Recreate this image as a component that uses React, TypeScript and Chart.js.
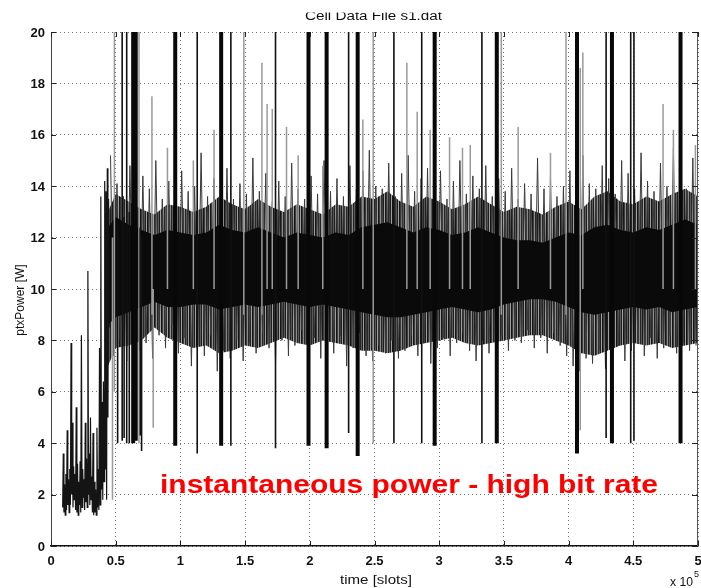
import React, { useEffect, useRef } from 'react';
import { Chart, registerables } from 'chart.js';
Chart.register(...registerables);

// ---------- axis ticks ----------
const xTicks = [0, 0.5, 1, 1.5, 2, 2.5, 3, 3.5, 4, 4.5, 5];
const xTickLabels = ['0', '0.5', '1', '1.5', '2', '2.5', '3', '3.5', '4', '4.5', '5'];
const yTicks = [0, 2, 4, 6, 8, 10, 12, 14, 16, 18, 20];
const yTickLabels = ['0', '2', '4', '6', '8', '10', '12', '14', '16', '18', '20'];

// ---------- texts ----------
const titleText = 'Cell Data File s1.dat';
const xTitle = 'time [slots]';
const yTitle = 'ptxPower [W]';
const annotation = 'instantaneous power - high bit rate';

// ---------- band envelope (time in 1e5 slots, power in W) ----------
const bandX = [0.44, 0.5, 0.6, 0.7, 0.8, 0.9, 1.0, 1.1, 1.2, 1.3, 1.4, 1.5, 1.6, 1.7, 1.8, 1.9, 2.0, 2.1, 2.2, 2.3, 2.4, 2.5, 2.6, 2.7, 2.8, 2.9, 3.0, 3.1, 3.2, 3.3, 3.4, 3.5, 3.6, 3.7, 3.8, 3.9, 4.0, 4.1, 4.2, 4.3, 4.4, 4.5, 4.6, 4.7, 4.8, 4.9, 5.0];
const outerHigh = [13.0, 13.7, 13.4, 13.1, 12.9, 13.3, 13.2, 13.0, 13.2, 13.6, 13.3, 13.1, 13.5, 13.2, 13.0, 13.3, 13.1, 12.9, 13.3, 13.2, 13.6, 13.5, 13.8, 13.4, 13.2, 13.6, 13.4, 13.1, 13.3, 13.6, 13.3, 13.0, 13.2, 13.1, 12.9, 13.2, 13.4, 13.1, 13.6, 13.8, 13.4, 13.3, 13.6, 13.4, 13.7, 13.9, 13.6];
const coreHigh = [12.4, 12.8, 12.5, 12.3, 12.1, 12.3, 12.2, 12.1, 12.2, 12.5, 12.3, 12.2, 12.4, 12.2, 12.0, 12.2, 12.1, 12.0, 12.2, 12.1, 12.4, 12.5, 12.6, 12.4, 12.2, 12.4, 12.3, 12.1, 12.2, 12.4, 12.2, 12.0, 11.9, 11.9, 11.8, 12.0, 12.2, 12.1, 12.4, 12.5, 12.3, 12.2, 12.4, 12.3, 12.5, 12.7, 12.5];
const coreLow = [8.6, 8.9, 9.1, 9.3, 9.5, 9.3, 9.3, 9.4, 9.4, 9.2, 9.3, 9.4, 9.3, 9.4, 9.5, 9.4, 9.3, 9.4, 9.3, 9.2, 9.1, 9.0, 8.9, 8.9, 9.0, 9.1, 9.2, 9.3, 9.2, 9.1, 9.2, 9.4, 9.5, 9.6, 9.6, 9.5, 9.3, 9.1, 9.0, 9.1, 9.2, 9.3, 9.2, 9.3, 9.1, 9.2, 9.3];
const outerLow = [7.0, 7.7, 7.8, 8.0, 8.5, 8.1, 7.9, 7.7, 7.8, 7.5, 7.6, 7.8, 7.7, 7.9, 8.1, 7.9, 7.8, 8.0, 7.9, 7.8, 7.6, 7.6, 7.5, 7.6, 7.8, 7.9, 8.0, 8.1, 7.9, 7.8, 7.9, 8.0, 8.1, 8.2, 8.2, 8.0, 7.8, 7.5, 7.4, 7.6, 7.8, 7.9, 7.8, 7.9, 7.7, 7.8, 7.9];

// ---------- fringe hairs (alternating upper / lower tips) ----------
const hairStart = 0.46;
const hairStep = 0.025;
const hairValues = [
  15.2, 7.4, 14.1, 8.0, 13.6, 7.2, 14.8, 8.3, 13.3, 7.6, 14.4, 7.9, 13.9, 7.3, 15.0, 8.2, 13.5, 7.7, 14.2, 8.6,
  13.4, 7.5, 14.6, 8.1, 13.8, 7.0, 14.0, 7.8, 15.3, 7.4, 13.6, 8.2, 14.3, 6.8, 13.9, 7.6, 14.7, 7.3, 13.5, 8.0,
  14.1, 7.2, 13.7, 7.9, 15.1, 7.5, 13.8, 8.3, 14.5, 7.7, 13.4, 7.1, 14.2, 8.0, 13.6, 7.4, 14.9, 7.8, 13.9, 8.4,
  13.5, 7.6, 14.4, 8.1, 13.7, 7.3, 15.0, 7.9, 13.8, 7.5, 14.3, 8.2, 13.6, 7.0, 14.8, 7.7, 13.9, 8.3, 14.6, 7.4,
  15.4, 7.2, 14.0, 7.8, 13.9, 7.5, 14.9, 8.0, 13.6, 7.3, 14.5, 7.6, 15.2, 8.2, 13.8, 7.4, 14.3, 7.9, 14.7, 7.1,
  13.8, 7.7, 14.6, 8.1, 13.5, 7.4, 14.2, 7.9, 15.0, 8.3, 13.7, 7.6, 14.4, 7.2, 13.9, 8.0, 14.8, 7.5, 13.6, 7.8,
  14.3, 8.2, 13.8, 7.6, 14.7, 8.0, 13.5, 7.9, 14.1, 8.4, 13.7, 7.7, 15.1, 8.1, 13.9, 7.5, 14.4, 8.3, 13.6, 7.8,
  14.0, 7.4, 14.6, 7.0, 13.8, 6.8, 15.2, 7.3, 14.1, 7.1, 13.9, 7.6, 14.8, 6.9, 14.3, 7.5, 13.7, 7.8, 15.0, 7.2,
  14.5, 7.6, 13.9, 7.9, 15.3, 7.4, 14.2, 8.1, 13.8, 7.3, 14.9, 7.7, 14.0, 8.2, 15.5, 7.5, 14.4, 7.9, 13.9, 7.6,
  15.1, 7.8,
];

// ---------- low-power start segment ----------
const leftStart = 0.09;
const leftStep = 0.005;
const leftValues = [
  1.5, 3.6, 1.3, 2.4, 1.2, 2.8, 1.4, 4.5, 1.6, 2.6, 1.3, 3.0, 1.6, 7.9, 2.0, 4.8, 1.5, 3.1, 1.8, 2.8,
  1.4, 5.4, 1.3, 3.2, 1.2, 2.5, 1.6, 3.3, 1.3, 8.2, 1.5, 3.0, 1.9, 2.6, 1.4, 4.8, 1.7, 3.4, 1.5, 10.7,
  2.0, 3.6, 1.6, 5.0, 1.8, 2.7, 1.3, 4.4, 1.2, 2.5, 1.3, 2.2, 1.2, 4.6, 1.5, 3.0, 1.4, 7.7, 1.6, 13.6,
  2.2, 5.6, 1.8, 6.4, 2.5, 14.2, 3.0, 13.8, 1.8, 14.7, 5.0, 13.5, 8.5,
];

// ---------- spikes ----------
const thickSpikeX = [0.635, 0.655, 0.96, 1.315, 1.99, 2.13, 2.37, 2.965, 3.445, 4.065, 4.335, 4.865];
const thickSpikeLow = [4.0, 4.1, 3.9, 3.9, 3.9, 3.8, 3.5, 3.9, 4.0, 3.6, 4.0, 4.0];
const thickSpikeHigh = [20, 20, 20, 20, 20, 20, 20, 20, 20, 20, 20, 20];

const thinSpikeX = [0.515, 0.55, 0.565, 0.585, 0.605, 0.69, 0.70, 1.13, 1.39, 1.735, 2.30, 2.65, 2.865, 3.33, 4.29, 4.48, 4.505];
const thinSpikeLow = [4.0, 4.1, 4.2, 4.0, 4.0, 4.3, 3.7, 3.6, 3.9, 3.8, 4.4, 4.0, 4.0, 4.0, 4.2, 4.0, 4.1];
const thinSpikeHigh = [12.5, 20, 12.8, 20, 13.0, 12.4, 12.0, 20, 20, 20, 20, 20, 20, 20, 20, 20, 20];

const graySpikeX = [0.475, 0.49, 0.68, 0.78, 0.79, 0.9, 1.1, 1.26, 1.49, 1.63, 1.67, 1.71, 1.82, 1.91, 2.1, 2.41, 2.49, 2.75, 2.83, 2.93, 3.08, 3.18, 3.24, 3.48, 3.61, 3.86, 3.98, 4.09, 4.11, 4.73, 4.81, 4.98];
const graySpikeLow = [1.8, 6.0, 4.0, 9.0, 4.6, 10, 10, 10, 9, 9, 10, 10, 10, 10, 10, 10, 4.0, 10, 10, 10, 10, 10, 10, 9, 10, 10, 9, 4.5, 10, 10, 10, 10];
const graySpikeHigh = [12, 20, 20, 17.5, 10, 15.5, 15.0, 16.2, 20, 18.8, 17.2, 17.0, 16.3, 15.2, 14.8, 16.6, 20, 18.8, 16.9, 16.2, 15.9, 15.5, 15.6, 20, 16.3, 15.3, 20, 18.6, 19.2, 17.2, 16.2, 15.6];

const FONT = '"Liberation Sans", Arial, Helvetica, sans-serif';

const pts = (xs: number[], ys: number[]) => xs.map((x, i) => ({ x, y: ys[i] }));
const seq = (start: number, step: number, ys: number[]) => ys.map((y, i) => ({ x: +(start + i * step).toFixed(4), y }));
const segs = (xs: number[], lo: number[], hi: number[]) =>
  xs.flatMap((x, i) => [{ x, y: lo[i] }, { x, y: hi[i] }, { x, y: null as any }]);

function stripePattern(colors: string[]): CanvasPattern | string {
  const c = document.createElement('canvas');
  c.width = colors.length;
  c.height = 1;
  const g = c.getContext('2d');
  if (!g) return colors[0];
  colors.forEach((col, i) => { g.fillStyle = col; g.fillRect(i, 0, 1, 1); });
  const p = g.createPattern(c, 'repeat');
  return p || colors[0];
}

function stretchText(ctx: CanvasRenderingContext2D, text: string, x: number, y: number, font: string, width: number | null, align: 'left' | 'center' | 'right') {
  ctx.save();
  ctx.font = font;
  ctx.textAlign = 'left';
  const w = ctx.measureText(text).width;
  const sx = width ? width / w : 1;
  const drawnW = w * sx;
  let left = x;
  if (align === 'center') left = x - drawnW / 2;
  if (align === 'right') left = x - drawnW;
  ctx.translate(left, y);
  ctx.scale(sx, 1);
  ctx.fillText(text, 0, 0);
  ctx.restore();
}

const overlayPlugin = {
  id: 'overlay',
  afterDraw(chart: any) {
    const { ctx, chartArea } = chart;
    const xs = chart.scales.x;
    const ys = chart.scales.y;
    const { left, right, top, bottom } = chartArea;
    ctx.save();
    // right border
    ctx.strokeStyle = '#555';
    ctx.lineWidth = 1;
    ctx.beginPath();
    ctx.moveTo(right - 0.5, top);
    ctx.lineTo(right - 0.5, bottom);
    ctx.stroke();
    // inner tick marks
    ctx.strokeStyle = '#222';
    yTicks.forEach((v) => {
      const py = Math.round(ys.getPixelForValue(v)) + 0.5;
      ctx.beginPath();
      ctx.moveTo(left, py); ctx.lineTo(left + 5, py);
      ctx.moveTo(right - 6, py); ctx.lineTo(right, py);
      ctx.stroke();
    });
    xTicks.forEach((v) => {
      const px = Math.round(xs.getPixelForValue(v)) + 0.5;
      ctx.beginPath();
      ctx.moveTo(px, bottom); ctx.lineTo(px, bottom - 5);
      ctx.moveTo(px, top); ctx.lineTo(px, top + 5);
      ctx.stroke();
    });
    // tick labels
    ctx.fillStyle = '#111';
    ctx.font = `bold 13px ${FONT}`;
    ctx.textAlign = 'right';
    ctx.textBaseline = 'middle';
    yTicks.forEach((v, i) => ctx.fillText(yTickLabels[i], 45, ys.getPixelForValue(v) + 1));
    ctx.textBaseline = 'alphabetic';
    xTicks.forEach((v, i) => stretchText(ctx, xTickLabels[i], xs.getPixelForValue(v), 565, `bold 13px ${FONT}`, null, 'center'));
    // axis titles
    stretchText(ctx, xTitle, 376, 584, `12px ${FONT}`, 72, 'center');
    stretchText(ctx, 'x 10', 670, 586, `12px ${FONT}`, 23, 'left');
    stretchText(ctx, '5', 694, 577, `9px ${FONT}`, null, 'left');
    ctx.save();
    ctx.translate(24, 300);
    ctx.rotate(-Math.PI / 2);
    ctx.font = `12px ${FONT}`;
    ctx.textAlign = 'center';
    ctx.textBaseline = 'alphabetic';
    ctx.fillText(yTitle, 0, 0);
    ctx.restore();
    // title (top cut off as in the scan)
    ctx.save();
    ctx.beginPath();
    ctx.rect(0, 12.5, 701, 10);
    ctx.clip();
    stretchText(ctx, titleText, 373.5, 20, `12px ${FONT}`, 137, 'center');
    ctx.restore();
    // red annotation
    ctx.fillStyle = '#ff0000';
    stretchText(ctx, annotation, 160, 493, `bold 25px ${FONT}`, 498, 'left');
    ctx.restore();
  },
};

export default function App() {
  const ref = useRef<HTMLCanvasElement | null>(null);
  useEffect(() => {
    if (!ref.current) return;
    const hidden = 'rgba(0,0,0,0)';
    const fringe = stripePattern(['#151515', '#3c3c3c', '#8c8c8c', '#262626', '#5a5a5a', '#1e1e1e', '#a0a0a0']);
    const chart = new Chart(ref.current, {
      type: 'line',
      data: {
        datasets: [
          { label: 'outerHigh', data: pts(bandX, outerHigh), fill: '+1', backgroundColor: fringe, borderColor: hidden, borderWidth: 1, pointRadius: 0, order: 10 },
          { label: 'outerLow', data: pts(bandX, outerLow), fill: false, borderColor: hidden, borderWidth: 1, pointRadius: 0, order: 10 },
          { label: 'hairs', data: seq(hairStart, hairStep, hairValues), fill: false, borderColor: '#3a3a3a', borderWidth: 1, pointRadius: 0, order: 8 },
          { label: 'coreHigh', data: pts(bandX, coreHigh), fill: '+1', backgroundColor: '#0a0a0a', borderColor: hidden, borderWidth: 1, pointRadius: 0, order: 6 },
          { label: 'coreLow', data: pts(bandX, coreLow), fill: false, borderColor: hidden, borderWidth: 1, pointRadius: 0, order: 6 },
          { label: 'start', data: seq(leftStart, leftStep, leftValues), fill: false, borderColor: '#141414', borderWidth: 1.2, pointRadius: 0, order: 5 },
          { label: 'graySpikes', data: segs(graySpikeX, graySpikeLow, graySpikeHigh), fill: false, borderColor: '#9a9a9a', borderWidth: 1.5, pointRadius: 0, spanGaps: false, order: 4 },
          { label: 'thinSpikes', data: segs(thinSpikeX, thinSpikeLow, thinSpikeHigh), fill: false, borderColor: '#111', borderWidth: 1.6, pointRadius: 0, spanGaps: false, order: 3 },
          { label: 'thickSpikes', data: segs(thickSpikeX, thickSpikeLow, thickSpikeHigh), fill: false, borderColor: '#080808', borderWidth: 4, pointRadius: 0, spanGaps: false, order: 2 },
        ] as any,
      },
      options: {
        animation: false,
        responsive: false,
        devicePixelRatio: 1,
        layout: { padding: { top: 32, right: 3, left: 0, bottom: 0 } },
        plugins: { legend: { display: false }, tooltip: { enabled: false }, title: { display: false } },
        elements: { line: { tension: 0, borderCapStyle: 'butt' }, point: { radius: 0 } },
        scales: {
          x: {
            type: 'linear', min: 0, max: 5,
            ticks: { display: false, stepSize: 0.5 },
            grid: { color: 'rgba(0,0,0,0.55)', lineWidth: 1, drawTicks: false },
            border: { display: true, color: '#111', width: 1.5, dash: [1, 3] },
            afterFit: (s: any) => { s.height = 42; s.paddingLeft = 0; s.paddingRight = 0; },
          },
          y: {
            type: 'linear', min: 0, max: 20,
            ticks: { display: false, stepSize: 2 },
            grid: { color: 'rgba(0,0,0,0.55)', lineWidth: 1, drawTicks: false },
            border: { display: true, color: '#444', width: 1, dash: [1, 3] },
            afterFit: (s: any) => { s.width = 51; s.paddingTop = 0; s.paddingBottom = 0; },
          },
        },
      } as any,
      plugins: [overlayPlugin],
    });
    return () => chart.destroy();
  }, []);
  return (
    <div style={{ position: 'absolute', left: 0, top: 0, width: 701, height: 588, background: '#fff' }}>
      <canvas ref={ref} width={701} height={588} style={{ display: 'block' }} />
    </div>
  );
}
